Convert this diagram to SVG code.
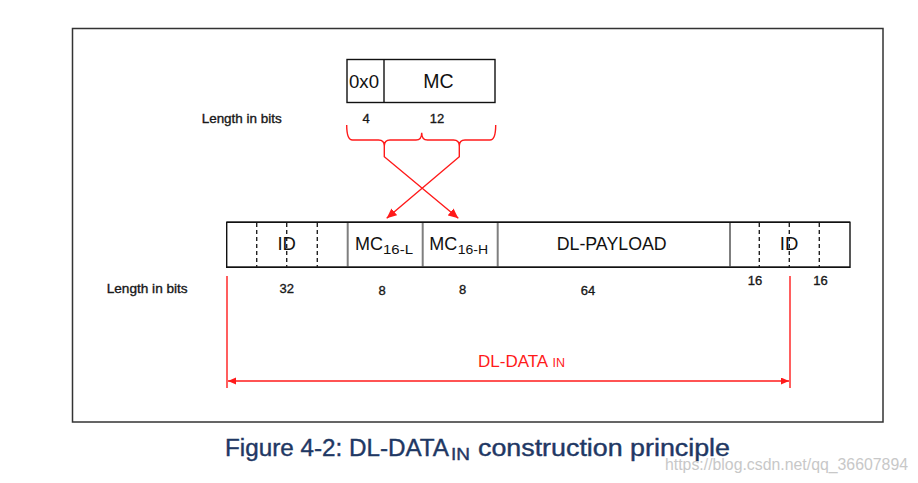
<svg xmlns="http://www.w3.org/2000/svg" width="918" height="483" viewBox="0 0 918 483">
<defs>
<style>
.t{font-family:"Liberation Sans",Arial,sans-serif;fill:#111}
.big{font-size:18.5px}
.sub{font-size:12px}
.sm{font-size:13px;stroke:#222;stroke-width:0.35}
.box{fill:#fff;stroke:#111;stroke-width:1.4}
.div{stroke:#7f7f7f;stroke-width:2}
.dash{stroke:#222;stroke-width:1.4;stroke-dasharray:4 3}
.red{stroke:#ff1a1a;stroke-width:1.4;fill:none}
.cap{font-family:"Liberation Sans",Arial,sans-serif;fill:#1f3864;stroke:#1f3864;stroke-width:0.4}
</style>
<marker id="ah" markerUnits="userSpaceOnUse" markerWidth="12" markerHeight="10" refX="10" refY="4.5" orient="auto">
<path d="M0,0 L10,4.5 L0,9 Z" fill="#ff1a1a"/>
</marker>
<marker id="ahs" markerUnits="userSpaceOnUse" markerWidth="10" markerHeight="8" refX="8" refY="3.5" orient="auto-start-reverse">
<path d="M0,0 L8,3.5 L0,7 Z" fill="#ff1a1a"/>
</marker>
</defs>
<rect width="918" height="483" fill="#fff"/>
<rect x="72.5" y="28.5" width="810.5" height="393.5" fill="#fff" stroke="#333" stroke-width="1.5"/>

<g id="mc-source">
<rect class="box" x="347" y="59.5" width="148" height="43"/>
<line x1="384" y1="59.5" x2="384" y2="102.5" stroke="#111" stroke-width="1.4"/>
<text class="t big" x="349" y="87.5" textLength="30" lengthAdjust="spacingAndGlyphs">0x0</text>
<text class="t" x="438.5" y="87.5" font-size="19.5" text-anchor="middle">MC</text>
</g>

<g id="top-lengths">
<text class="t sm" x="201.7" y="122.5" textLength="80" lengthAdjust="spacingAndGlyphs">Length in bits</text>
<text class="t sm" x="366" y="122.5" text-anchor="middle">4</text>
<text class="t sm" x="437" y="122.5" text-anchor="middle">12</text>
</g>

<g id="frame-row">
<rect class="box" x="226.7" y="222.3" width="623.3" height="45"/>
<line class="div" x1="347.7" y1="222.3" x2="347.7" y2="267.3"/>
<line class="div" x1="422.7" y1="222.3" x2="422.7" y2="267.3"/>
<line class="div" x1="497.7" y1="222.3" x2="497.7" y2="267.3"/>
<line class="div" x1="730" y1="222.3" x2="730" y2="267.3"/>
<line x1="226.7" y1="222.3" x2="850" y2="222.3" stroke="#111" stroke-width="1.4"/>
<line x1="226.7" y1="267.3" x2="850" y2="267.3" stroke="#111" stroke-width="1.4"/>
</g>

<g id="id-left">
<line class="dash" x1="256.7" y1="223" x2="256.7" y2="267"/>
<line class="dash" x1="286.7" y1="223" x2="286.7" y2="267"/>
<line class="dash" x1="317.3" y1="223" x2="317.3" y2="267"/>
<text class="t big" x="286.7" y="249.5" text-anchor="middle">ID</text>
</g>
<g id="mc-low">
<text class="t big" x="355" y="249.5"><tspan textLength="28" lengthAdjust="spacingAndGlyphs">MC</tspan><tspan x="383" y="254.3" font-size="12" textLength="30" lengthAdjust="spacingAndGlyphs">16-L</tspan></text>
</g>
<g id="mc-high">
<text class="t big" x="429.3" y="249.5"><tspan textLength="28" lengthAdjust="spacingAndGlyphs">MC</tspan><tspan x="457.7" y="254.3" font-size="12" textLength="30.3" lengthAdjust="spacingAndGlyphs">16-H</tspan></text>
</g>
<g id="dl-payload">
<text class="t big" x="556.7" y="249.5" textLength="110" lengthAdjust="spacingAndGlyphs">DL-PAYLOAD</text>
</g>
<g id="id-right">
<line class="dash" x1="759.3" y1="223" x2="759.3" y2="267"/>
<line class="dash" x1="789.3" y1="223" x2="789.3" y2="267"/>
<line class="dash" x1="819.3" y1="223" x2="819.3" y2="267"/>
<text class="t big" x="789" y="249.5" text-anchor="middle">ID</text>
</g>

<g id="bottom-lengths">
<text class="t sm" x="106.7" y="292.5" textLength="81" lengthAdjust="spacingAndGlyphs">Length in bits</text>
<text class="t sm" x="286.7" y="293" text-anchor="middle">32</text>
<text class="t sm" x="382" y="295" text-anchor="middle">8</text>
<text class="t sm" x="462.5" y="294" text-anchor="middle">8</text>
<text class="t sm" x="588" y="295" text-anchor="middle">64</text>
<text class="t sm" x="755" y="285" text-anchor="middle">16</text>
<text class="t sm" x="820.5" y="285" text-anchor="middle">16</text>
</g>

<g id="connectors">
<path class="red" d="M346.7,125 Q346.7,140 352.5,140 L378.5,140 Q384.3,140 384.3,146 Q384.3,140 390,140 L416,140 Q421.7,140 421.7,132.7 Q421.7,140 427.5,140 L453.5,140 Q459.3,140 459.3,146 Q459.3,140 465,140 L490,140 Q495.7,140 495.7,125"/>
<path class="red" d="M384.3,146 L384.3,156.7 L458.3,218.3" marker-end="url(#ah)"/>
<path class="red" d="M459.3,146 L459.3,156.7 L386.7,218.3" marker-end="url(#ah)"/>
<line class="red" x1="227" y1="276" x2="227" y2="388"/>
<line class="red" x1="790" y1="276" x2="790" y2="388"/>
<line class="red" x1="228" y1="381" x2="789" y2="381" marker-start="url(#ahs)" marker-end="url(#ahs)"/>
</g>

<g id="dl-data-label">
<text x="478" y="366.7" font-family="Liberation Sans,Arial,sans-serif" font-size="17" fill="#ff1a1a">DL-DATA<tspan x="552.5" font-size="12.5">IN</tspan></text>
</g>

<g id="caption">
<text class="cap" x="225" y="456" font-size="23.5"><tspan textLength="224" lengthAdjust="spacingAndGlyphs">Figure 4-2: DL-DATA</tspan><tspan x="451" y="460" font-size="17" textLength="19" lengthAdjust="spacingAndGlyphs">IN</tspan><tspan x="478" y="456" textLength="252" lengthAdjust="spacingAndGlyphs">construction principle</tspan></text>
</g>
<text x="665" y="470" font-family="Liberation Sans,Arial,sans-serif" font-size="16" fill="#c8c8c8" textLength="243" lengthAdjust="spacingAndGlyphs">https://blog.csdn.net/qq_36607894</text>
</svg>
